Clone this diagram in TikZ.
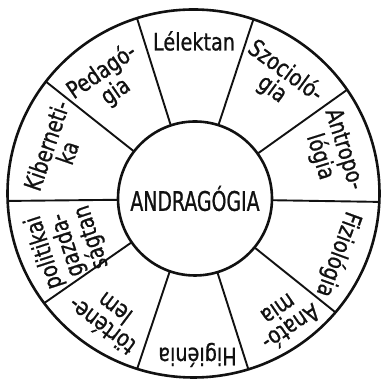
\documentclass[tikz,border=0pt]{standalone}
\usepackage{fontspec}
\newfontfamily\labelfont{DejaVu Sans}[FakeStretch=0.8, FakeBold=0.8]
\newfontfamily\hubfont{DejaVu Sans}[FakeStretch=0.7, FakeBold=0.8]
\definecolor{Ink}{HTML}{111111}
\tikzset{
  every node/.style={text=Ink},
  rim/.style={draw=Ink, line width=2.6pt},
  spoke/.style={draw=Ink, line width=1.9pt},
  field/.style={font=\labelfont\fontsize{24}{22}\selectfont, align=center, inner sep=0pt},
}

\begin{document}
\begin{tikzpicture}[x=1pt,y=1pt]
  \useasboundingbox (0,0) rectangle (384,382);
  \coordinate (hub) at (194,183);
  \coordinate (rimc) at (193.5,188.5);

  % Ten spokes from the core to the rim, clipped at the rim.
  \begin{scope}
    \clip (rimc) ellipse [x radius=186, y radius=184];
    \begin{scope}[shift={(hub)}]
      \draw[spoke] (-0.9:76) -- (-0.9:200);
      \draw[spoke] (35.5:76) -- (35.5:200);
      \draw[spoke] (71.7:76) -- (71.7:200);
      \draw[spoke] (107.5:76) -- (107.5:200);
      \draw[spoke] (141.6:76) -- (141.6:200);
      \draw[spoke] (180.6:76) -- (180.6:200);
      \draw[spoke] (214.8:76) -- (214.8:200);
      \draw[spoke] (251.5:76) -- (251.5:200);
      \draw[spoke] (287.7:76) -- (287.7:200);
      \draw[spoke] (321.3:76) -- (321.3:200);
    \end{scope}
  \end{scope}
  \draw[rim] (rimc) ellipse [x radius=186, y radius=184];

  % The core of the wheel.
  \node[rim, circle, fill=white, minimum size=154pt, inner sep=0pt,
    font=\hubfont\fontsize{27}{27}\selectfont] (core) at (195,183.5)
    {ANDRAGÓGIA};

  % Sector labels, read clockwise, tops towards the rim.
  \begin{scope}[shift={(hub)}]
    \node[field, rotate=-72.7] (antropo) at (18.4:145) {Antropo-\\lógia};
    \node[field, rotate=-36.4] (szocio) at (54.5:146) {Szocioló-\\gia};
    \node[field, rotate=0] (lelek) at (90:158) {Lélektan};
    \node[field, rotate=34.6] (pedago) at (126:145) {Pedagó-\\gia};
    \node[field, rotate=71] (kiber) at (160:146) {Kiberneti-\\ka};
    \node[field, rotate=108] (polit) at (200:134) {politikai\\gazda-\\ságtan};
    \node[field, rotate=143] (tortene) at (234:147) {történe-\\lem};
    \node[field, rotate=180] (higien) at (-88.7:156) {Higiénia};
    \node[field, rotate=214.5] (anato) at (-52.8:151) {Anató-\\mia};
    \node[field, rotate=250] (fizio) at (-21:154.5) {Fiziológia};
  \end{scope}
\end{tikzpicture}
\end{document}
